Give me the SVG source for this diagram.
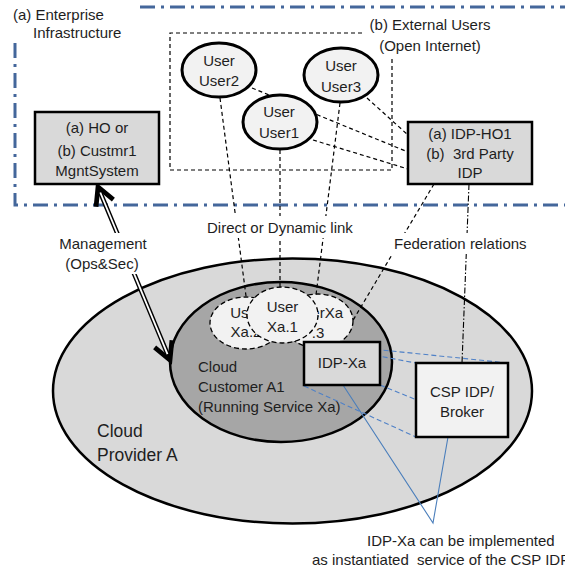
<svg xmlns="http://www.w3.org/2000/svg" width="565" height="569" viewBox="0 0 565 569">
  <style>
    text { font-family: "Liberation Sans", Arial, sans-serif; font-size: 15px; fill: #1e1e1e; }
    .mid { text-anchor: middle; }
    .big { font-size: 17.5px; }
    .user { fill: #f2f2f2; stroke: #000; stroke-width: 3; }
    .xa { fill: #f2f2f2; stroke: #000; stroke-width: 1.3; stroke-dasharray: 5 3; }
    .box { fill: #d9d9d9; stroke: #000; stroke-width: 2.5; }
    .zone { fill: none; stroke: #44679b; stroke-width: 3; stroke-dasharray: 15 6 3 6; }
    .dash { fill: none; stroke: #000; stroke-width: 1.2; stroke-dasharray: 4 3; }
    .dashdot { fill: none; stroke: #000; stroke-width: 1.1; stroke-dasharray: 6 2 1.5 2; }
    .bluedash { fill: none; stroke: #4f81c7; stroke-width: 1.1; stroke-dasharray: 5 3; }
    .blue { fill: none; stroke: #4a7ebb; stroke-width: 1.1; }
    .bg { fill: #fff; }
  </style>
  <defs>
    <marker id="vee" markerUnits="userSpaceOnUse" markerWidth="30" markerHeight="30" viewBox="-20 -12 24 24" refX="0" refY="0" orient="auto-start-reverse" overflow="visible">
      <path d="M-14,-7.5 L0,0 L-14,7.5" fill="none" stroke="#000" stroke-width="3.8" stroke-linejoin="miter"/>
    </marker>
  </defs>

  <rect width="565" height="569" fill="#fff"/>

  <!-- Cloud provider and customer areas -->
  <g id="cloud-provider">
    <ellipse cx="292.5" cy="391" rx="239.5" ry="132.5" fill="#d9d9d9" stroke="#000" stroke-width="2.5"/>
    <text class="big" x="97" y="437">Cloud</text>
    <text class="big" x="97" y="461">Provider A</text>
  </g>
  <g id="cloud-customer">
    <ellipse cx="281" cy="362" rx="111" ry="80" fill="#a6a6a6" stroke="#000" stroke-width="2.5"/>
    <text x="198" y="372">Cloud</text>
    <text x="198" y="392">Customer A1</text>
    <text x="198" y="412">(Running Service Xa)</text>
  </g>
  <g id="user-xa2">
    <ellipse class="xa" cx="246" cy="323" rx="36" ry="26"/>
    <text class="mid" x="246" y="318">User</text>
    <text class="mid" x="246" y="337">Xa.2</text>
  </g>
  <g id="user-xa3">
    <ellipse class="xa" cx="318" cy="321" rx="35" ry="27"/>
    <text class="mid" x="318" y="318">UserXa</text>
    <text class="mid" x="318" y="338">.3</text>
  </g>
  <g id="user-xa1">
    <ellipse class="xa" cx="282.5" cy="315" rx="35.5" ry="28"/>
    <text class="mid" x="282.5" y="312">User</text>
    <text class="mid" x="282.5" y="332">Xa.1</text>
  </g>

  <!-- Enterprise infrastructure boundary -->
  <g id="enterprise">
    <path class="zone" d="M140,7 H565"/>
    <path class="zone" d="M15,43 V205 H565"/>
    <text x="13" y="20">(a) Enterprise</text>
    <text x="33" y="38">Infrastructure</text>
  </g>

  <!-- External users area -->
  <g id="external-users">
    <path class="dash" d="M362,33 H170 V170 H392 V58"/>
    <text class="mid" x="430" y="30">(b) External Users</text>
    <text class="mid" x="430" y="51">(Open Internet)</text>
  </g>

  <!-- Connectors -->
  <g id="connectors">
    <path class="dash" d="M220,98 L246,296"/>
    <path class="dash" d="M280,150 L280,287"/>
    <path class="dash" d="M340,103 L316,295"/>
    <path class="dash" d="M252,88 L408,152"/>
    <path class="dash" d="M313,140 L408,169"/>
    <path class="dash" d="M367,98 L408,135"/>
    <path class="dash" d="M434,184 L352,322"/>
    <path class="dashdot" d="M469,184 L462,363"/>
    <path class="bluedash" d="M304,342 L508,363"/>
    <path class="bluedash" d="M304,342 L416,363"/>
    <path class="bluedash" d="M380,385 L508,437"/>
    <path class="bluedash" d="M304,386 L416,437"/>
    <path class="blue" d="M343,385 L433,523 L448,437"/>
    <!-- double-lined management arrow -->
    <path d="M98,187 L170,360" fill="none" stroke="#000" stroke-width="4.6" marker-start="url(#vee)" marker-end="url(#vee)"/>
    <path d="M100.3,192.5 L167.5,354.1" fill="none" stroke="#fff" stroke-width="1.8"/>
    <!-- label backgrounds -->
    <rect class="bg" x="204" y="216" width="158" height="22"/>
    <rect class="bg" x="391" y="233" width="146" height="21"/>
    <rect class="bg" x="55" y="233" width="97" height="41"/>
    <text x="207" y="233">Direct or Dynamic link</text>
    <text x="394" y="249">Federation relations</text>
    <text class="mid" x="103" y="249">Management</text>
    <text class="mid" x="102" y="269">(Ops&amp;Sec)</text>
    <text x="367" y="546">IDP-Xa can be implemented</text>
    <text x="312" y="565" xml:space="preserve">as instantiated  service of the CSP IDP</text>
  </g>

  <!-- User nodes -->
  <g id="user2">
    <ellipse class="user" cx="219" cy="70" rx="37" ry="27"/>
    <text class="mid" x="219" y="66">User</text>
    <text class="mid" x="219" y="86">User2</text>
  </g>
  <g id="user3">
    <ellipse class="user" cx="341" cy="75" rx="37" ry="27"/>
    <text class="mid" x="341" y="71">User</text>
    <text class="mid" x="341" y="92">User3</text>
  </g>
  <g id="user1">
    <ellipse class="user" cx="280" cy="122" rx="37" ry="27"/>
    <text class="mid" x="279" y="117">User</text>
    <text class="mid" x="279" y="138">User1</text>
  </g>

  <!-- Boxes -->
  <g id="mgmt-system">
    <rect class="box" x="35" y="112" width="124" height="72" stroke-width="3"/>
    <text class="mid" x="97" y="133">(a) HO or</text>
    <text class="mid" x="97" y="156">(b) Custmr1</text>
    <text class="mid" x="97" y="176">MgntSystem</text>
  </g>
  <g id="idp-ho1">
    <rect class="box" x="408" y="122" width="124" height="62" stroke-width="3"/>
    <text class="mid" x="470" y="139">(a) IDP-HO1</text>
    <text class="mid" x="470" y="159" xml:space="preserve">(b)  3rd Party</text>
    <text class="mid" x="470" y="178">IDP</text>
  </g>
  <g id="idp-xa">
    <rect class="box" x="304" y="342" width="76" height="43" stroke-width="2"/>
    <text class="mid" x="342" y="368">IDP-Xa</text>
  </g>
  <g id="csp-idp">
    <rect class="box" x="416" y="363" width="92" height="74" fill="#f2f2f2" style="fill:#f2f2f2" stroke-width="3"/>
    <text class="mid" x="462" y="397">CSP IDP/</text>
    <text class="mid" x="462" y="417">Broker</text>
  </g>
</svg>
